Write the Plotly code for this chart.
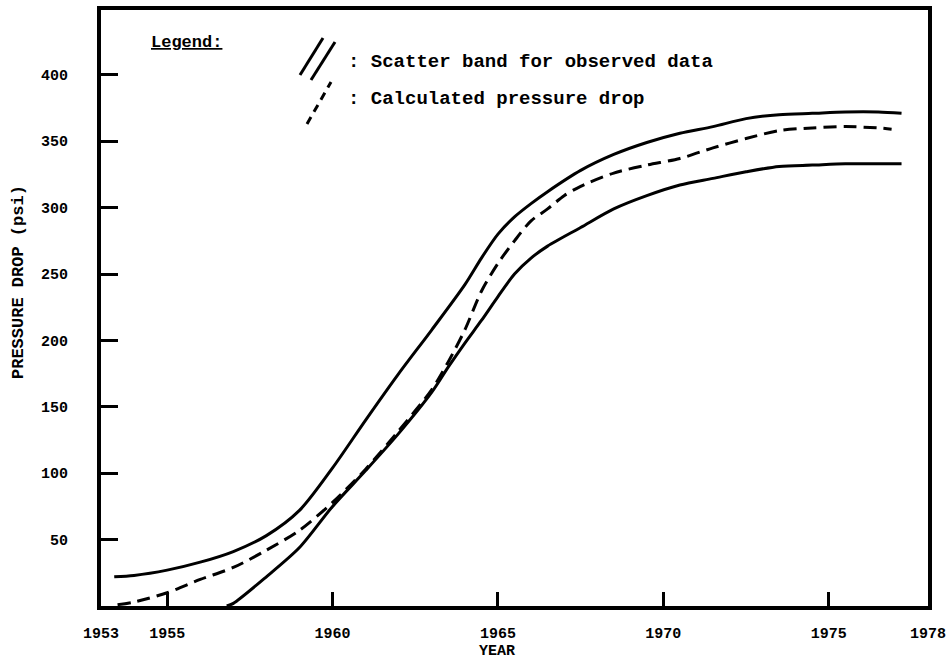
import plotly.graph_objects as go

# ---- data ----
upper_years = [1953.4, 1954, 1955, 1956, 1957, 1958, 1959, 1960, 1961, 1962, 1963, 1964,
               1964.5, 1965, 1965.5, 1966, 1966.5, 1967.5, 1968.5, 1969.5, 1970.5, 1971.5,
               1972.5, 1973.5, 1974.5, 1975.5, 1976.5, 1977.2]
upper_vals = [22, 23, 27, 33, 41, 53, 72, 104, 140, 175, 208, 242,
              262, 280, 293, 303, 312, 328, 340, 349, 356, 361,
              367, 370, 371, 372, 372, 371]

lower_years = [1956.8, 1957, 1958, 1959, 1960, 1961, 1962, 1963, 1963.5, 1964, 1964.5,
               1965, 1965.5, 1966, 1966.5, 1967.5, 1968.5, 1969.5, 1970.5, 1971.5,
               1972.5, 1973.5, 1974.5, 1975.5, 1976.5, 1977.2]
lower_vals = [0, 2, 22, 44, 75, 102, 130, 161, 180, 198, 215,
              233, 250, 262, 271, 285, 299, 309, 317, 322,
              327, 331, 332, 333, 333, 333]

calc_years = [1953.5, 1954, 1955, 1956, 1957, 1958, 1959, 1960, 1961, 1962, 1963, 1963.5,
              1964, 1964.5, 1965, 1965.5, 1966, 1966.5, 1967, 1967.5, 1968.5, 1969.5,
              1970.5, 1971.5, 1972.5, 1973.5, 1974.5, 1975.5, 1976.5, 1976.9]
calc_vals = [1, 3, 10, 20, 29, 42, 57, 78, 103, 132, 163, 184,
             208, 237, 258, 275, 290, 299, 309, 316, 326, 332,
             337, 345, 352, 358, 360, 361, 360, 359]

x_ticks = [1953, 1955, 1960, 1965, 1970, 1975, 1978]
x_tick_text = ["1953", "1955", "1960", "1965", "1970", "1975", "1978"]
y_ticks = [50, 100, 150, 200, 250, 300, 350, 400]

FONT = "Liberation Mono"

fig = go.Figure()
for xs, ys in [(upper_years, upper_vals), (lower_years, lower_vals)]:
    fig.add_trace(go.Scatter(x=xs, y=ys, mode="lines",
                             line=dict(color="black", width=3, shape="spline", smoothing=0.8),
                             showlegend=False, hoverinfo="skip"))
fig.add_trace(go.Scatter(x=calc_years, y=calc_vals, mode="lines",
                         line=dict(color="black", width=3, shape="spline", smoothing=0.8,
                                   dash="13px,7px"),
                         showlegend=False, hoverinfo="skip"))

axis_common = dict(showgrid=False, zeroline=False, showline=True, linecolor="black",
                   linewidth=4, mirror=True, ticks="inside", tickcolor="black",
                   tickwidth=3, automargin=False,
                   tickfont=dict(family=FONT, size=15, color="black", weight="bold"))

fig.update_xaxes(range=[1953, 1978], tickvals=x_ticks, ticktext=x_tick_text,
                 ticklen=14, ticklabelstandoff=10, ticklabeloverflow="allow", **axis_common)
fig.update_yaxes(range=[0, 448.8], tickvals=y_ticks, ticklen=17,
                 ticklabelstandoff=26, **axis_common)

# legend glyphs (decoration in paper coordinates)
W, H = 946, 660
L, R, T, B = 101, 18, 10, 54
pw, ph = W - L - R, H - T - B
def px(xp): return (xp - L) / pw
def py(yp): return 1 - (yp - T) / ph

shapes = [
    dict(type="line", xref="paper", yref="paper", x0=px(300), y0=py(75), x1=px(323), y1=py(38),
         line=dict(color="black", width=3)),
    dict(type="line", xref="paper", yref="paper", x0=px(311), y0=py(80), x1=px(335), y1=py(42),
         line=dict(color="black", width=3)),
    dict(type="line", xref="paper", yref="paper", x0=px(307), y0=py(124), x1=px(331), y1=py(82),
         line=dict(color="black", width=3, dash="8px,6px")),
]

annotations = [
    dict(xref="paper", yref="paper", x=px(149), y=py(43), xanchor="left", yanchor="middle",
         text="<u>Legend:</u>", showarrow=False,
         font=dict(family=FONT, size=17, color="black", weight="bold")),
    dict(xref="paper", yref="paper", x=px(346), y=py(62), xanchor="left", yanchor="middle",
         text=": Scatter band for observed data", showarrow=False,
         font=dict(family=FONT, size=19, color="black", weight="bold")),
    dict(xref="paper", yref="paper", x=px(346), y=py(99), xanchor="left", yanchor="middle",
         text=": Calculated pressure drop", showarrow=False,
         font=dict(family=FONT, size=19, color="black", weight="bold")),
    dict(xref="paper", yref="paper", x=px(497), y=py(651), xanchor="center", yanchor="middle",
         text="YEAR", showarrow=False,
         font=dict(family=FONT, size=15, color="black", weight="bold")),
    dict(xref="paper", yref="paper", x=px(18), y=py(282), xanchor="center", yanchor="middle",
         text="PRESSURE DROP (psi)", textangle=-90, showarrow=False,
         font=dict(family=FONT, size=17, color="black", weight="bold")),
]

fig.update_layout(width=W, height=H, margin=dict(l=L, r=R, t=T, b=B),
                  paper_bgcolor="white", plot_bgcolor="white",
                  shapes=shapes, annotations=annotations, showlegend=False)

fig.write_html("out.html")
